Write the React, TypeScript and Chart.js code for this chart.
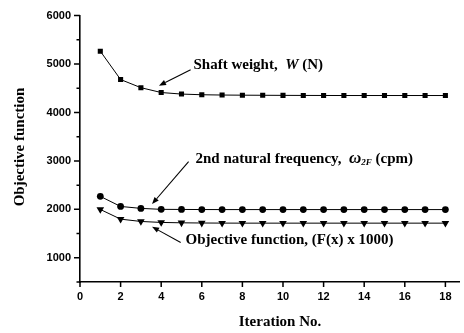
import React, { useEffect, useRef } from "react";
import { Chart, registerables } from "chart.js";

Chart.register(...registerables);

const iterations = [1, 2, 3, 4, 5, 6, 7, 8, 9, 10, 11, 12, 13, 14, 15, 16, 17, 18];
const shaftWeight = [5265, 4680, 4512, 4412, 4380, 4366, 4360, 4357, 4355, 4353, 4352, 4351, 4350, 4350, 4350, 4350, 4350, 4350];
const naturalFrequency = [2268, 2060, 2020, 2000, 1998, 1996, 1995, 1995, 1995, 1995, 1995, 1995, 1995, 1995, 1995, 1995, 1995, 1995];
const objectiveFunction = [1998, 1798, 1750, 1730, 1722, 1718, 1716, 1715, 1715, 1715, 1715, 1715, 1715, 1715, 1715, 1715, 1715, 1715];

const xTicks = [0, 2, 4, 6, 8, 10, 12, 14, 16, 18];
const yTicks = [1000, 2000, 3000, 4000, 5000, 6000];
const yMinorTicks = [500, 1500, 2500, 3500, 4500, 5500];

const xTitle = "Iteration No.";
const yTitle = "Objective function";

const SERIF = "'Liberation Serif', 'Times New Roman', serif";
const SANS = "'Liberation Sans', Arial, sans-serif";

type Seg = { t: string; italic?: boolean; size?: number; dy?: number };

// annotation anchors in data coordinates
const annotationTexts: { x: number; y: number; segs: Seg[] }[] = [
  { x: 5.59, y: 4980, segs: [{ t: "Shaft weight,  " }, { t: "W", italic: true }, { t: " (N)" }] },
  {
    x: 5.69,
    y: 3046,
    segs: [
      { t: "2nd natural frequency,  " },
      { t: "ω", italic: true, size: 17 },
      { t: "2F", italic: true, size: 9, dy: 4 },
      { t: " (cpm)" },
    ],
  },
  { x: 5.2, y: 1356, segs: [{ t: "Objective function, (F(x) x 1000)" }] },
];

const annotationArrows: { from: [number, number]; to: [number, number] }[] = [
  { from: [5.45, 4880], to: [3.89, 4554] },
  { from: [5.35, 2985], to: [3.55, 2109] },
  { from: [4.96, 1315], to: [3.55, 1641] },
];

const overlay = {
  id: "overlay",
  afterDraw(chart: any) {
    const { ctx, chartArea } = chart;
    const xs = chart.scales.x;
    const ys = chart.scales.y;
    ctx.save();
    ctx.strokeStyle = "#000";
    ctx.fillStyle = "#000";
    ctx.lineWidth = 1.5;
    ctx.beginPath();
    for (const v of yTicks) {
      const py = ys.getPixelForValue(v);
      ctx.moveTo(chartArea.left, py);
      ctx.lineTo(chartArea.left - 6, py);
    }
    for (const v of yMinorTicks) {
      const py = ys.getPixelForValue(v);
      ctx.moveTo(chartArea.left, py);
      ctx.lineTo(chartArea.left - 3.5, py);
    }
    for (const v of xTicks) {
      const px = xs.getPixelForValue(v);
      ctx.moveTo(px, chartArea.bottom);
      ctx.lineTo(px, chartArea.bottom + 5);
    }
    ctx.stroke();

    // axis titles
    ctx.font = `bold 15px ${SERIF}`;
    ctx.textAlign = "center";
    ctx.textBaseline = "middle";
    ctx.fillText(xTitle, 280, 322);
    ctx.save();
    ctx.translate(20, 147);
    ctx.rotate(-Math.PI / 2);
    ctx.fillText(yTitle, 0, 0);
    ctx.restore();

    // annotation texts
    ctx.textAlign = "left";
    ctx.textBaseline = "middle";
    for (const a of annotationTexts) {
      let px = xs.getPixelForValue(a.x);
      const py = ys.getPixelForValue(a.y);
      for (const s of a.segs) {
        const size = s.size ?? 15;
        ctx.font = `${s.italic ? "italic " : ""}bold ${size}px ${SERIF}`;
        ctx.fillText(s.t, px, py + (s.dy ?? 0));
        px += ctx.measureText(s.t).width;
      }
    }

    // arrows
    ctx.lineWidth = 1.1;
    for (const a of annotationArrows) {
      const x1 = xs.getPixelForValue(a.from[0]);
      const y1 = ys.getPixelForValue(a.from[1]);
      const x2 = xs.getPixelForValue(a.to[0]);
      const y2 = ys.getPixelForValue(a.to[1]);
      const ang = Math.atan2(y2 - y1, x2 - x1);
      const L = 7;
      const W = 2.8;
      const bx = x2 - L * Math.cos(ang);
      const by = y2 - L * Math.sin(ang);
      ctx.beginPath();
      ctx.moveTo(x1, y1);
      ctx.lineTo(bx, by);
      ctx.stroke();
      ctx.beginPath();
      ctx.moveTo(x2, y2);
      ctx.lineTo(bx + W * Math.sin(ang), by - W * Math.cos(ang));
      ctx.lineTo(bx - W * Math.sin(ang), by + W * Math.cos(ang));
      ctx.closePath();
      ctx.fill();
    }
    ctx.restore();
  },
};

export default function App() {
  const ref = useRef<HTMLCanvasElement | null>(null);
  useEffect(() => {
    document.body.style.margin = "0";
    const canvas = ref.current!;
    const mk = (vals: number[]) => iterations.map((x, i) => ({ x, y: vals[i] }));
    const base = {
      borderColor: "#000",
      backgroundColor: "#000",
      borderWidth: 1,
      tension: 0,
      pointBorderWidth: 0,
    };
    const chart = new Chart(canvas, {
      type: "line",
      data: {
        datasets: [
          { ...base, label: "Shaft weight", data: mk(shaftWeight), pointStyle: "rect", pointRadius: 3.6 },
          { ...base, label: "2nd natural frequency", data: mk(naturalFrequency), pointStyle: "circle", pointRadius: 3.4 },
          {
            ...base,
            label: "Objective function",
            data: mk(objectiveFunction),
            pointStyle: "triangle",
            pointRotation: 180,
            pointRadius: 4.4,
          },
        ],
      },
      options: {
        animation: false,
        responsive: false,
        events: [],
        layout: { padding: { top: 12, left: 0, right: 0, bottom: 0 } },
        plugins: { legend: { display: false }, tooltip: { enabled: false } },
        scales: {
          x: {
            type: "linear",
            min: 0,
            max: 18.7,
            grid: { display: false, drawTicks: false },
            border: { display: true, color: "#000", width: 1.6 },
            afterBuildTicks: (s: any) => {
              s.ticks = xTicks.map((v) => ({ value: v }));
            },
            afterFit: (s: any) => {
              s.height = 51;
            },
            ticks: {
              color: "#000",
              padding: 8,
              maxRotation: 0,
              autoSkip: false,
              callback: (v: any) => String(v),
              font: { family: SANS, size: 11, weight: "bold" },
            },
          },
          y: {
            type: "linear",
            min: 500,
            max: 6000,
            grid: { display: false, drawTicks: false },
            border: { display: true, color: "#000", width: 1.6 },
            afterBuildTicks: (s: any) => {
              s.ticks = yTicks.map((v) => ({ value: v }));
            },
            afterFit: (s: any) => {
              s.width = 80;
            },
            ticks: {
              color: "#000",
              padding: 9,
              autoSkip: false,
              callback: (v: any) => String(v),
              font: { family: SANS, size: 11, weight: "bold" },
            },
          },
        },
      },
      plugins: [overlay],
    } as any);
    return () => chart.destroy();
  }, []);
  return (
    <div style={{ width: 464, height: 333 }}>
      <canvas ref={ref} width={464} height={333} />
    </div>
  );
}
